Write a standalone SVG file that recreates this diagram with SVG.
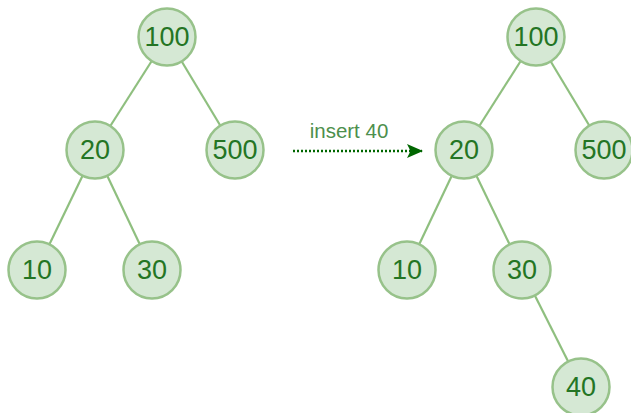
<svg xmlns="http://www.w3.org/2000/svg" width="631" height="413" viewBox="0 0 631 413">
<style>
.n circle{fill:#d5e8d4;stroke:#97c28a;stroke-width:2.5}
.n text{font-family:"Liberation Sans",Arial,sans-serif;font-size:27px;fill:#247524;text-anchor:middle;dominant-baseline:central}
.e line{stroke:#8fbf7f;stroke-width:2.2}
.lbl{font-family:"Liberation Sans",Arial,sans-serif;font-size:20.5px;fill:#4d8f4d;text-anchor:middle}
</style>
<defs>
<marker id="ah" markerWidth="16" markerHeight="16" refX="15" refY="8" orient="auto" markerUnits="userSpaceOnUse">
<path d="M0,1 L16,8 L0,15 L3.5,8 Z" fill="#006600"/>
</marker>
</defs>
<g id="connectors" class="e">
<line x1="167" y1="37" x2="95" y2="150"/>
<line x1="167" y1="37" x2="235" y2="150"/>
<line x1="95" y1="150" x2="37" y2="270"/>
<line x1="95" y1="150" x2="152" y2="270"/>
<line x1="536" y1="37" x2="464" y2="150"/>
<line x1="536" y1="37" x2="604" y2="150"/>
<line x1="464" y1="150" x2="407" y2="270"/>
<line x1="464" y1="150" x2="522" y2="270"/>
<line x1="522" y1="270" x2="581" y2="387"/>
</g>
<g id="arrow">
<line x1="293" y1="151" x2="422" y2="151" stroke="#006600" stroke-width="2.5" stroke-dasharray="2,2" marker-end="url(#ah)"/>
<text class="lbl" x="349" y="138">insert 40</text>
</g>
<g id="L100" class="n"><circle cx="167" cy="37" r="28.5"/><text x="167" y="37">100</text></g>
<g id="L20" class="n"><circle cx="95" cy="150" r="28.5"/><text x="95" y="150">20</text></g>
<g id="L500" class="n"><circle cx="235" cy="150" r="28.5"/><text x="235" y="150">500</text></g>
<g id="L10" class="n"><circle cx="37" cy="270" r="28.5"/><text x="37" y="270">10</text></g>
<g id="L30" class="n"><circle cx="152" cy="270" r="28.5"/><text x="152" y="270">30</text></g>
<g id="R100" class="n"><circle cx="536" cy="37" r="28.5"/><text x="536" y="37">100</text></g>
<g id="R20" class="n"><circle cx="464" cy="150" r="28.5"/><text x="464" y="150">20</text></g>
<g id="R500" class="n"><circle cx="604" cy="150" r="28.5"/><text x="604" y="150">500</text></g>
<g id="R10" class="n"><circle cx="407" cy="270" r="28.5"/><text x="407" y="270">10</text></g>
<g id="R30" class="n"><circle cx="522" cy="270" r="28.5"/><text x="522" y="270">30</text></g>
<g id="R40" class="n"><circle cx="581" cy="387" r="28.5"/><text x="581" y="387">40</text></g>
</svg>
